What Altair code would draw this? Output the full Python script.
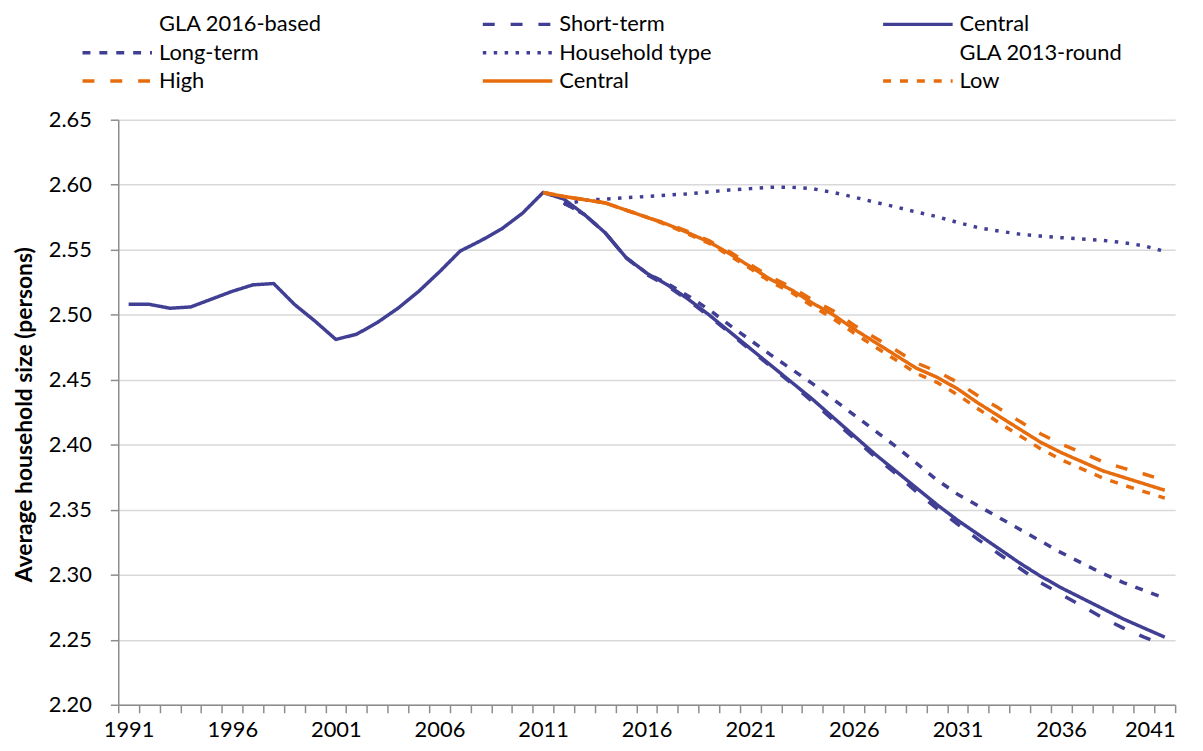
import altair as alt
import pandas as pd

# ---------------- data ----------------
hist_years = list(range(1991, 2012))
proj_years = list(range(2012, 2042))
orange_years = list(range(2011, 2042))

central16_hist = [2.508, 2.508, 2.505, 2.506, 2.512, 2.518, 2.523, 2.524, 2.508, 2.495,
                  2.481, 2.485, 2.494, 2.505, 2.518, 2.533, 2.549, 2.557, 2.566, 2.578, 2.594]
central16_proj = [2.589, 2.577, 2.563, 2.544, 2.532, 2.523, 2.512, 2.500, 2.487, 2.474,
                  2.461, 2.448, 2.435, 2.421, 2.407, 2.393, 2.380, 2.367, 2.354, 2.342,
                  2.331, 2.320, 2.309, 2.299, 2.290, 2.282, 2.274, 2.266, 2.259, 2.252]
short_term = [2.586, 2.577, 2.563, 2.544, 2.531, 2.522, 2.511, 2.499, 2.486, 2.473,
              2.460, 2.447, 2.433, 2.419, 2.405, 2.391, 2.378, 2.364, 2.351, 2.339,
              2.327, 2.316, 2.305, 2.294, 2.285, 2.276, 2.267, 2.259, 2.252, 2.246]
long_term = [2.586, 2.577, 2.563, 2.544, 2.532, 2.524, 2.5145, 2.504, 2.492, 2.4805,
             2.469, 2.458, 2.447, 2.435, 2.423, 2.411, 2.399, 2.386, 2.373, 2.362,
             2.353, 2.344, 2.335, 2.326, 2.317, 2.309, 2.301, 2.294, 2.288, 2.282]
household_type = [2.585, 2.588, 2.589, 2.590, 2.591, 2.592, 2.593, 2.5945, 2.596, 2.597,
                  2.598, 2.598, 2.597, 2.594, 2.5905, 2.5866, 2.583, 2.579, 2.5755, 2.571,
                  2.567, 2.5643, 2.562, 2.5605, 2.5593, 2.5582, 2.5572, 2.5555, 2.553, 2.5487]
high13 = [2.594, 2.591, 2.5885, 2.586, 2.5805, 2.575, 2.570, 2.564, 2.557, 2.5485,
          2.5385, 2.529, 2.521, 2.5115, 2.503, 2.492, 2.4825, 2.473, 2.463, 2.4565,
          2.448, 2.4375, 2.428, 2.418, 2.4085, 2.4005, 2.394, 2.387, 2.382, 2.3775, 2.3725]
central13 = [2.594, 2.591, 2.5885, 2.586, 2.5805, 2.575, 2.5695, 2.563, 2.556, 2.547,
             2.537, 2.527, 2.519, 2.509, 2.500, 2.489, 2.479, 2.469, 2.459, 2.452,
             2.443, 2.432, 2.422, 2.412, 2.402, 2.394, 2.387, 2.380, 2.375, 2.370, 2.365]
low13 = [2.594, 2.591, 2.5885, 2.586, 2.5805, 2.575, 2.569, 2.562, 2.555, 2.5455,
         2.5355, 2.525, 2.517, 2.5065, 2.497, 2.486, 2.4755, 2.4655, 2.455, 2.448,
         2.4385, 2.4275, 2.417, 2.407, 2.397, 2.3885, 2.3815, 2.3745, 2.369, 2.364, 2.359]

PURPLE = "#403f94"
ORANGE = "#e66c0d"
NONE = "rgba(0,0,0,0)"

# legend entries, listed column by column (3 columns x 3 rows); header entries have no line
series_keys = ["GLA 2016-based", "Long-term", "High",
               "Short-term", "Household type", "Central ",
               "Central", "GLA 2013-round", "Low"]
series_colors = [NONE, PURPLE, ORANGE,
                 PURPLE, PURPLE, ORANGE,
                 PURPLE, NONE, ORANGE]
series_dashes = [[1, 0], [8, 9], [12, 16],
                 [12, 16], [3.5, 7.5], [1, 0],
                 [1, 0], [1, 0], [8, 9]]

y_ticks = [2.20, 2.25, 2.30, 2.35, 2.40, 2.45, 2.50, 2.55, 2.60, 2.65]

# ---------------- table ----------------
rows = []
def add(name, years, vals):
    for yr, v in zip(years, vals):
        rows.append({"year": yr, "value": v, "series": name})

add("Central", hist_years + proj_years, central16_hist + central16_proj)
add("Short-term", proj_years, short_term)
add("Long-term", proj_years, long_term)
add("Household type", proj_years, household_type)
add("High", orange_years, high13)
add("Central ", orange_years, central13)
add("Low", orange_years, low13)
df = pd.DataFrame(rows)

all_years = hist_years + proj_years
boundaries = [y - 0.5 for y in all_years] + [all_years[-1] + 0.5]

FONT = "Lato"
AXIS_GREY = "#8c8c8c"

# each year label is attached to the tick on its right and shifted back half a category
x_axis = alt.Axis(
    values=boundaries,
    labelExpr="datum.value > 1991 && (datum.value - 0.5 - 1991) % 5 == 0 ? '' + (datum.value - 0.5) : ''",
    labelOverlap=False,
    labelFlush=True,
    labelFlushOffset=10.43,
    labelOffset=-10.43,
    labelPadding=7,
    labelFont=FONT, labelFontSize=22, labelColor="#000000",
    tickSize=8, tickColor=AXIS_GREY, tickWidth=1.5,
    domainColor=AXIS_GREY, domainWidth=1.5,
    grid=False, title=None,
)

y_axis = alt.Axis(
    values=y_ticks, format=".2f",
    labelFont=FONT, labelFontSize=22, labelColor="#000000", labelPadding=19,
    tickSize=8, tickColor=AXIS_GREY, tickWidth=1.5,
    domainColor=AXIS_GREY, domainWidth=1.5,
    grid=True, gridColor="#d9d9d9", gridWidth=1.5,
    title="Average household size (persons)",
    titleFont=FONT, titleFontSize=23, titleFontWeight="bold", titleColor="#000000",
    titleAngle=270, titleX=-87, titleY=296.5, titleAlign="center", titleBaseline="alphabetic",
)

chart = alt.Chart(df).mark_line(strokeWidth=3.5, strokeJoin="round").encode(
    x=alt.X("year:Q", scale=alt.Scale(domain=[1990.5, 2041.5], nice=False, zero=False), axis=x_axis),
    y=alt.Y("value:Q", scale=alt.Scale(domain=[2.20, 2.65], nice=False, zero=False), axis=y_axis),
    color=alt.Color("series:N", scale=alt.Scale(domain=series_keys, range=series_colors), title=None),
    strokeDash=alt.StrokeDash("series:N", scale=alt.Scale(domain=series_keys, range=series_dashes), title=None),
).properties(
    width=1064, height=589,
    autosize=alt.AutoSizeParams(type="none"),
    padding={"left": 111, "top": 110, "right": 20, "bottom": 36},
).configure_view(
    stroke="transparent"
).configure_legend(
    orient="none", legendX=-38, legendY=-107,
    columns=3, gridAlign="all", columnPadding=160, rowPadding=6.5,
    clipHeight=22,
    symbolType="stroke", symbolSize=4900, symbolStrokeWidth=3.5,
    labelFont=FONT, labelFontSize=22, labelColor="#000000", labelOffset=5,
    padding=0, labelLimit=400,
)

chart.save("out.html", embed_options={"renderer": "svg", "actions": False})
